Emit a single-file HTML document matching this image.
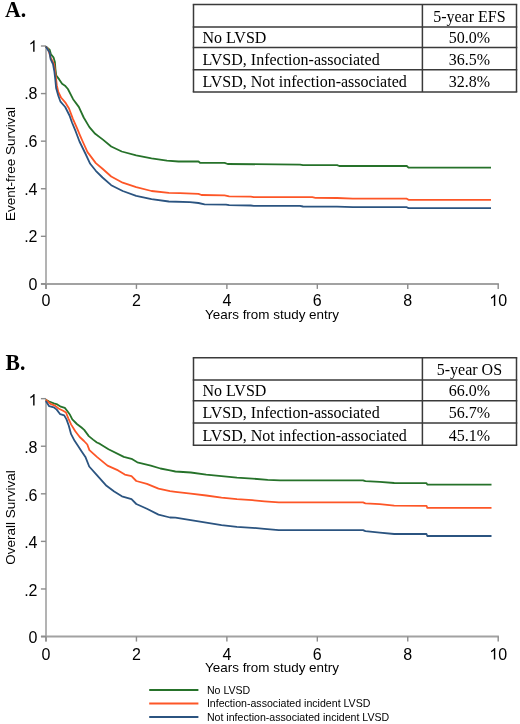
<!DOCTYPE html>
<html><head><meta charset="utf-8"><style>
html,body{margin:0;padding:0;background:#fff;}
body{width:520px;height:724px;overflow:hidden;font-family:"Liberation Sans", sans-serif;}
svg{display:block;will-change:transform;filter:blur(0.25px);}
</style></head><body>
<svg width="520" height="724" viewBox="0 0 520 724">
<rect width="520" height="724" fill="#fff"/>
<text transform="translate(5,17.1) scale(0.91,1)" font-family="Liberation Serif, serif" font-weight="bold" font-size="24" fill="#000">A.</text>
<text transform="translate(5.5,370.2) scale(0.9,1)" font-family="Liberation Serif, serif" font-weight="bold" font-size="24" fill="#000">B.</text>
<g stroke="#3a3a3a" stroke-width="1.5"><line x1="192.75" y1="4.5" x2="517.25" y2="4.5" /><line x1="192.75" y1="26.9" x2="517.25" y2="26.9" /><line x1="192.75" y1="47.5" x2="517.25" y2="47.5" /><line x1="192.75" y1="69.7" x2="517.25" y2="69.7" /><line x1="192.75" y1="92.0" x2="517.25" y2="92.0" /><line x1="193.5" y1="4.5" x2="193.5" y2="92.0" /><line x1="422.4" y1="4.5" x2="422.4" y2="92.0" /><line x1="516.5" y1="4.5" x2="516.5" y2="92.0" /></g>
<g font-family="Liberation Serif, serif" font-size="16" fill="#000"><text x="469.4" y="21.7" text-anchor="middle">5-year EFS</text><text x="202.5" y="42.5">No LVSD</text><text x="469.4" y="42.5" text-anchor="middle">50.0%</text><text x="202.5" y="64.7">LVSD, Infection-associated</text><text x="469.4" y="64.7" text-anchor="middle">36.5%</text><text x="202.5" y="87.0">LVSD, Not infection-associated</text><text x="469.4" y="87.0" text-anchor="middle">32.8%</text></g>
<g stroke="#3a3a3a" stroke-width="1.5"><line x1="192.75" y1="357.7" x2="517.25" y2="357.7" /><line x1="192.75" y1="380.09999999999997" x2="517.25" y2="380.09999999999997" /><line x1="192.75" y1="400.7" x2="517.25" y2="400.7" /><line x1="192.75" y1="422.9" x2="517.25" y2="422.9" /><line x1="192.75" y1="445.2" x2="517.25" y2="445.2" /><line x1="193.5" y1="357.7" x2="193.5" y2="445.2" /><line x1="422.4" y1="357.7" x2="422.4" y2="445.2" /><line x1="516.5" y1="357.7" x2="516.5" y2="445.2" /></g>
<g font-family="Liberation Serif, serif" font-size="16" fill="#000"><text x="469.4" y="375.3" text-anchor="middle">5-year OS</text><text x="202.5" y="396.1">No LVSD</text><text x="469.4" y="396.1" text-anchor="middle">66.0%</text><text x="202.5" y="418.3">LVSD, Infection-associated</text><text x="469.4" y="418.3" text-anchor="middle">56.7%</text><text x="202.5" y="440.6">LVSD, Not infection-associated</text><text x="469.4" y="440.6" text-anchor="middle">45.1%</text></g>
<line x1="46.0" y1="46.0" x2="46.0" y2="288.9" stroke="#b3b3b3" stroke-width="2" />
<line x1="41.0" y1="283.9" x2="498.9" y2="283.9" stroke="#a2a2a2" stroke-width="2" />
<g stroke="#8c8c8c" stroke-width="1.4" fill="none"><line x1="40.9" y1="283.90" x2="46.0" y2="283.90" /><line x1="40.9" y1="236.32" x2="46.0" y2="236.32" /><line x1="40.9" y1="188.74" x2="46.0" y2="188.74" /><line x1="40.9" y1="141.16" x2="46.0" y2="141.16" /><line x1="40.9" y1="93.58" x2="46.0" y2="93.58" /><line x1="40.9" y1="46.00" x2="46.0" y2="46.00" /><line x1="46.00" y1="283.9" x2="46.00" y2="288.9" /><line x1="136.44" y1="283.9" x2="136.44" y2="288.9" /><line x1="226.88" y1="283.9" x2="226.88" y2="288.9" /><line x1="317.32" y1="283.9" x2="317.32" y2="288.9" /><line x1="407.76" y1="283.9" x2="407.76" y2="288.9" /><line x1="498.20" y1="283.9" x2="498.20" y2="288.9" /></g>
<g font-family="Liberation Sans, sans-serif" font-size="16" fill="#000"><text x="37.5" y="289.70" text-anchor="end">0</text><text x="37.5" y="242.12" text-anchor="end">.2</text><text x="37.5" y="194.54" text-anchor="end">.4</text><text x="37.5" y="146.96" text-anchor="end">.6</text><text x="37.5" y="99.38" text-anchor="end">.8</text><text x="46.00" y="305.90" text-anchor="middle">0</text><text x="136.44" y="305.90" text-anchor="middle">2</text><text x="226.88" y="305.90" text-anchor="middle">4</text><text x="317.32" y="305.90" text-anchor="middle">6</text><text x="407.76" y="305.90" text-anchor="middle">8</text><text x="498.20" y="305.90">0</text></g>
<g fill="#000"><path transform="translate(28.60,51.80) scale(0.007812,-0.007812)" d="M763 0H583V1147Q518 1085 412 1023Q306 961 222 930V1104Q373 1175 486 1276Q599 1377 646 1472H763Z"/><path transform="translate(489.30,305.90) scale(0.007812,-0.007812)" d="M763 0H583V1147Q518 1085 412 1023Q306 961 222 930V1104Q373 1175 486 1276Q599 1377 646 1472H763Z"/></g>
<text x="272" y="318.90" text-anchor="middle" font-family="Liberation Sans, sans-serif" font-size="13.45" fill="#000">Years from study entry</text>
<text transform="translate(15.4,164.05) rotate(-90)" text-anchor="middle" font-family="Liberation Sans, sans-serif" font-size="13.5" fill="#000">Event-free Survival</text>
<polyline points="45.8,46.5 49.6,49.6 51.0,54.4 53.5,57.3 54.9,62.1 55.4,68.8 56.3,75.6 59.2,79.4 62.1,83.8 65.0,85.7 67.9,89.0 73.1,99.2 78.8,106.9 83.7,117.5 89.4,127.1 95.2,133.8 102.9,139.6 111.2,146.5 121.7,151.5 136.2,155.4 151.5,158.3 166.9,160.6 178.5,161.5 198.5,161.5 200.0,162.8 224.6,162.8 227.7,164.0 300.0,164.6 303.0,165.2 337.2,165.2 339.2,166.0 406.8,166.0 408.5,167.7 491.0,167.7" fill="none" stroke="#26722a" stroke-width="1.8" stroke-linejoin="round" />
<polyline points="45.8,46.5 48.0,49.0 50.6,57.3 54.0,64.0 55.4,73.7 56.8,85.2 58.3,91.9 61.0,97.5 65.2,102.3 69.0,108.5 72.8,118.6 77.0,128.2 80.1,135.6 82.7,141.5 87.5,152.1 90.0,155.4 95.8,163.1 102.5,168.8 111.2,176.5 122.7,182.7 136.2,187.1 151.5,191.0 168.8,192.9 180.0,193.2 198.5,193.8 201.5,195.0 224.6,195.4 229.2,196.3 250.8,196.6 253.8,197.2 312.3,197.2 315.4,197.8 337.0,198.0 352.9,198.7 406.8,198.7 408.5,199.8 491.0,199.8" fill="none" stroke="#fd5627" stroke-width="1.8" stroke-linejoin="round" />
<polyline points="45.8,46.5 49.6,52.5 50.6,59.2 53.0,64.0 54.4,71.7 55.4,80.4 56.1,88.0 58.3,95.8 60.5,101.7 65.2,107.0 69.5,115.5 72.0,122.5 75.8,131.7 79.5,141.5 85.6,154.0 90.2,163.8 95.8,170.8 102.5,177.5 111.2,185.2 122.7,191.0 136.2,195.8 151.5,199.2 168.8,201.5 190.0,202.1 198.5,203.0 204.6,204.3 226.0,204.6 229.2,205.2 250.8,205.5 253.8,205.8 300.0,205.8 303.0,206.5 337.0,206.6 352.9,207.2 406.8,207.2 408.5,208.1 491.0,208.1" fill="none" stroke="#2b5480" stroke-width="1.8" stroke-linejoin="round" />
<line x1="46.0" y1="398.65" x2="46.0" y2="641.55" stroke="#b3b3b3" stroke-width="2" />
<line x1="41.0" y1="636.55" x2="498.9" y2="636.55" stroke="#a2a2a2" stroke-width="2" />
<g stroke="#8c8c8c" stroke-width="1.4" fill="none"><line x1="40.9" y1="636.55" x2="46.0" y2="636.55" /><line x1="40.9" y1="588.97" x2="46.0" y2="588.97" /><line x1="40.9" y1="541.39" x2="46.0" y2="541.39" /><line x1="40.9" y1="493.81" x2="46.0" y2="493.81" /><line x1="40.9" y1="446.23" x2="46.0" y2="446.23" /><line x1="40.9" y1="398.65" x2="46.0" y2="398.65" /><line x1="46.00" y1="636.55" x2="46.00" y2="641.55" /><line x1="136.44" y1="636.55" x2="136.44" y2="641.55" /><line x1="226.88" y1="636.55" x2="226.88" y2="641.55" /><line x1="317.32" y1="636.55" x2="317.32" y2="641.55" /><line x1="407.76" y1="636.55" x2="407.76" y2="641.55" /><line x1="498.20" y1="636.55" x2="498.20" y2="641.55" /></g>
<g font-family="Liberation Sans, sans-serif" font-size="16" fill="#000"><text x="37.5" y="643.35" text-anchor="end">0</text><text x="37.5" y="595.77" text-anchor="end">.2</text><text x="37.5" y="548.19" text-anchor="end">.4</text><text x="37.5" y="500.61" text-anchor="end">.6</text><text x="37.5" y="453.03" text-anchor="end">.8</text><text x="46.00" y="659.55" text-anchor="middle">0</text><text x="136.44" y="659.55" text-anchor="middle">2</text><text x="226.88" y="659.55" text-anchor="middle">4</text><text x="317.32" y="659.55" text-anchor="middle">6</text><text x="407.76" y="659.55" text-anchor="middle">8</text><text x="498.20" y="659.55">0</text></g>
<g fill="#000"><path transform="translate(28.60,405.45) scale(0.007812,-0.007812)" d="M763 0H583V1147Q518 1085 412 1023Q306 961 222 930V1104Q373 1175 486 1276Q599 1377 646 1472H763Z"/><path transform="translate(489.30,659.55) scale(0.007812,-0.007812)" d="M763 0H583V1147Q518 1085 412 1023Q306 961 222 930V1104Q373 1175 486 1276Q599 1377 646 1472H763Z"/></g>
<text x="272" y="672.15" text-anchor="middle" font-family="Liberation Sans, sans-serif" font-size="13.45" fill="#000">Years from study entry</text>
<text transform="translate(15.4,517.60) rotate(-90)" text-anchor="middle" font-family="Liberation Sans, sans-serif" font-size="13.5" fill="#000">Overall Survival</text>
<polyline points="45.8,399.8 49.2,401.5 53.8,403.3 57.3,404.4 60.8,406.7 64.8,407.9 67.1,410.8 70.0,414.8 72.3,419.4 76.9,424.0 81.5,427.5 84.2,429.9 88.8,436.1 93.1,439.6 96.9,442.5 100.0,443.9 108.5,449.2 123.8,456.9 131.5,458.8 137.3,462.3 150.8,465.6 160.4,468.5 170.0,470.4 175.4,471.5 190.8,472.5 206.2,474.6 221.5,476.2 236.9,477.7 252.3,478.6 267.7,479.8 280.0,480.3 363.0,480.3 365.4,481.2 379.8,481.8 394.2,483.0 426.5,483.2 427.3,484.7 491.5,484.7" fill="none" stroke="#26722a" stroke-width="1.8" stroke-linejoin="round" />
<polyline points="45.8,399.8 50.4,403.8 55.0,405.6 58.5,408.5 63.1,410.8 66.0,412.5 68.3,418.3 71.2,424.6 75.3,431.2 79.7,437.0 84.0,441.0 87.3,444.5 89.4,450.1 96.9,456.9 107.5,465.6 118.1,470.4 124.8,474.6 131.5,476.2 136.3,481.0 146.9,483.8 158.5,488.7 170.0,491.2 175.4,491.8 190.8,493.7 206.2,495.5 221.5,497.7 236.9,499.2 252.3,500.2 264.5,501.3 278.8,502.3 363.0,502.3 365.4,503.3 379.8,504.2 394.2,505.7 426.5,505.8 427.3,507.9 491.5,507.9" fill="none" stroke="#fd5627" stroke-width="1.8" stroke-linejoin="round" />
<polyline points="45.8,401.0 49.2,406.2 53.8,407.3 56.7,409.6 60.2,414.2 64.2,415.4 66.5,419.4 68.8,425.8 71.1,434.2 74.6,440.8 78.1,446.0 81.5,451.2 85.4,456.9 89.2,466.5 96.9,475.2 106.5,485.8 114.2,491.5 121.9,496.3 131.5,499.2 136.3,504.0 146.9,508.8 158.5,514.6 170.0,517.5 175.4,517.7 190.8,520.2 206.2,522.6 221.5,525.1 236.9,526.9 252.3,527.8 264.4,528.8 278.8,530.2 363.0,530.2 365.4,531.2 379.8,532.6 394.2,534.0 426.5,534.0 427.3,536.0 491.5,536.0" fill="none" stroke="#2b5480" stroke-width="1.8" stroke-linejoin="round" />
<line x1="149.2" y1="690.0" x2="198.4" y2="690.0" stroke="#26722a" stroke-width="2" />
<text x="206.9" y="693.6" font-family="Liberation Sans, sans-serif" font-size="10.6" fill="#000">No LVSD</text>
<line x1="149.2" y1="703.6" x2="198.4" y2="703.6" stroke="#fd5627" stroke-width="2" />
<text x="206.9" y="707.2" font-family="Liberation Sans, sans-serif" font-size="10.6" fill="#000">Infection-associated incident LVSD</text>
<line x1="149.2" y1="717.0" x2="198.4" y2="717.0" stroke="#2b5480" stroke-width="2" />
<text x="206.9" y="720.6" font-family="Liberation Sans, sans-serif" font-size="10.6" fill="#000">Not infection-associated incident LVSD</text>
</svg>
</body></html>
